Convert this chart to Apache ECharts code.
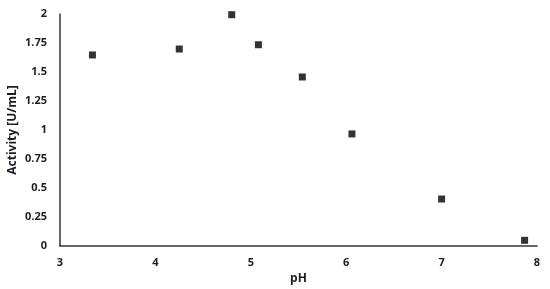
<!DOCTYPE html>
<html>
<head>
<meta charset="utf-8">
<script src="https://cdn.jsdelivr.net/npm/echarts@6/dist/echarts.min.js"></script>
<style>
  html, body { margin: 0; padding: 0; background: #fff; }
  #chart { width: 550px; height: 289px; }
</style>
</head>
<body>
<div id="chart"></div>
<script>
(function () {
  'use strict';

  // ── Data ──

  var PH = [3.34, 4.25, 4.80, 5.08, 5.54, 6.06, 7.00, 7.87];
  var ACTIVITY = [1.647, 1.698, 1.994, 1.735, 1.457, 0.966, 0.405, 0.049];

  var LABEL = { color: '#1c1c28', fontSize: 11, fontWeight: 'bold', fontFamily: 'Open Sans' };
  var AXIS_LINE = { show: true, lineStyle: { color: '#333', width: 1.5 } };

  var chart = echarts.init(document.getElementById('chart'), null, { renderer: 'canvas' });

  chart.setOption({
    animation: false,
    grid: { left: 60, right: 13, top: 14, bottom: 43, outerBoundsMode: 'none', containLabel: false },
    xAxis: {
      type: 'value',
      min: 3,
      max: 8,
      interval: 1,
      name: 'pH',
      nameLocation: 'middle',
      nameGap: 24,
      nameTextStyle: { color: '#1c1c28', fontSize: 12, fontWeight: 'bold', fontFamily: 'Open Sans' },
      axisLine: AXIS_LINE,
      axisTick: { show: false },
      axisLabel: Object.assign({}, LABEL, { margin: 11 }),
      splitLine: { show: false },
    },
    yAxis: {
      type: 'value',
      min: 0,
      max: 2,
      interval: 0.25,
      name: 'Activity [U/mL]',
      nameLocation: 'middle',
      nameGap: 41,
      nameMoveOverlap: false,
      nameTextStyle: { color: '#1c1c28', fontSize: 12, fontWeight: 'bold', fontFamily: 'Open Sans' },
      axisLine: AXIS_LINE,
      axisTick: { show: false },
      axisLabel: Object.assign({}, LABEL, { margin: 13 }),
      splitLine: { show: false },
    },
    series: [{
      type: 'scatter',
      symbol: 'rect',
      symbolSize: 7,
      itemStyle: { color: '#000' },
      data: PH.map(function (x, i) { return [x, ACTIVITY[i]]; }),
    }],
  });
})();
</script>
</body>
</html>
